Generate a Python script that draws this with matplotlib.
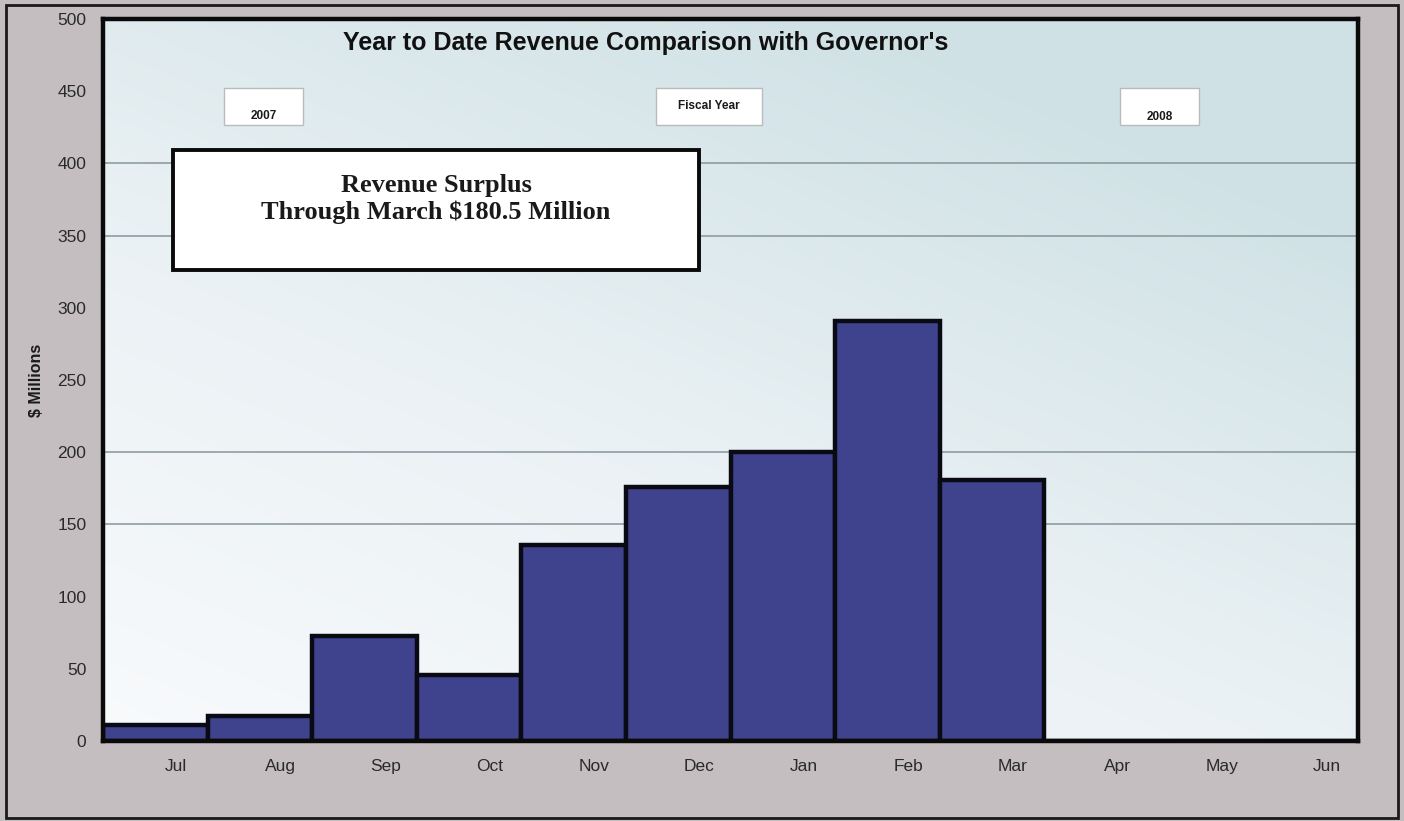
import numpy as np
import matplotlib
matplotlib.use("Agg")
import matplotlib.pyplot as plt
from matplotlib.patches import Rectangle
from matplotlib.colors import LinearSegmentedColormap

# monthly surplus vs. governor's estimate, $ millions
months = ["Jul", "Aug", "Sep", "Oct", "Nov", "Dec", "Jan", "Feb", "Mar", "Apr", "May", "Jun"]
surplus = [11, 17, 73, 46, 136, 176, 200, 291, 180.5, 0, 0, 0]
grid_levels = [150, 200, 350, 400]
y_ticks = [0, 50, 100, 150, 200, 250, 300, 350, 400, 450, 500]

title = "Year to Date Revenue Comparison with Governor's"
note = "Revenue Surplus\nThrough March $180.5 Million"

plt.rcParams["font.family"] = ["Liberation Sans", "DejaVu Sans"]

fig = plt.figure(figsize=(14.04, 8.21), dpi=100, facecolor="#c4bec0")
ax = fig.add_axes([0.0734, 0.0975, 0.8938, 0.8794])

# outer frame of the whole panel
fig.patches.append(Rectangle((0.004, 0.004), 0.992, 0.990, transform=fig.transFigure,
                             fill=False, edgecolor="#1a1a1a", linewidth=2))

# diagonal wash: white at lower left, pale teal toward upper right
nx, ny = 200, 120
gx, gy = np.meshgrid(np.linspace(0, 1, nx), np.linspace(0, 1, ny))
wash = np.clip(0.55 * gx + 0.75 * gy, 0, 1.1) / 1.1
cmap = LinearSegmentedColormap.from_list("wash", ["#f8fafc", "#eaf1f4", "#cfe1e5"])
ax.imshow(wash, cmap=cmap, origin="lower", extent=[0, 1, 0, 1], transform=ax.transAxes,
          aspect="auto", zorder=0, interpolation="bicubic")

for lvl in grid_levels:
    ax.axhline(lvl, color="#87959a", linewidth=1.1, zorder=1)

x = np.arange(len(months))
ax.bar(x, surplus, width=1.0, color="#3f438d", edgecolor="#0a0a14", linewidth=3.2, zorder=3)

ax.set_xlim(-0.5, len(months) - 0.5)
ax.set_ylim(0, 500)
ax.set_yticks(y_ticks)
ax.set_xticks(x + 0.2)
ax.set_xticklabels(months)
ax.tick_params(axis="both", length=0, labelsize=12.5, labelcolor="#2a2a2a")
ax.tick_params(axis="x", pad=13)
ax.tick_params(axis="y", pad=12)
for sp in ax.spines.values():
    sp.set_linewidth(3.2)
    sp.set_color("#0a0a0a")
    sp.set_zorder(5)

fig.text(0.026, 0.537, "$ Millions", rotation=90, ha="center", va="center",
         fontsize=11.5, fontweight="bold", color="#1a1a1a")

ax.text(0.4327, 0.9668, title, transform=ax.transAxes, ha="center", va="center",
        fontsize=18, fontweight="bold", color="#111111", zorder=6)

# small header tags
tags = [("2007", 0.0964, 0.063, 0.866),
        ("Fiscal Year", 0.4406, 0.0845, 0.8795),
        ("2008", 0.8104, 0.063, 0.864)]
for label, x0, w, ty in tags:
    ax.add_patch(Rectangle((x0, 0.853), w, 0.051, transform=ax.transAxes,
                           facecolor="white", edgecolor="#b8bcbc", linewidth=1, zorder=4))
    ax.text(x0 + w / 2, ty, label, transform=ax.transAxes, ha="center", va="center",
            fontsize=8.5, fontweight="bold", color="#1a1a1a", zorder=5)

# surplus call-out
ax.add_patch(Rectangle((0.0558, 0.652), 0.419, 0.1662, transform=ax.transAxes,
                       facecolor="white", edgecolor="#0a0a0a", linewidth=2.8, zorder=4))
ax.text(0.2653, 0.751, note, transform=ax.transAxes, ha="center", va="center",
        fontsize=19, fontweight="bold", family=["Liberation Serif", "DejaVu Serif"],
        color="#1a1a1a", linespacing=1.2, zorder=5)

fig.savefig("out.png", dpi=100, facecolor=fig.get_facecolor())
